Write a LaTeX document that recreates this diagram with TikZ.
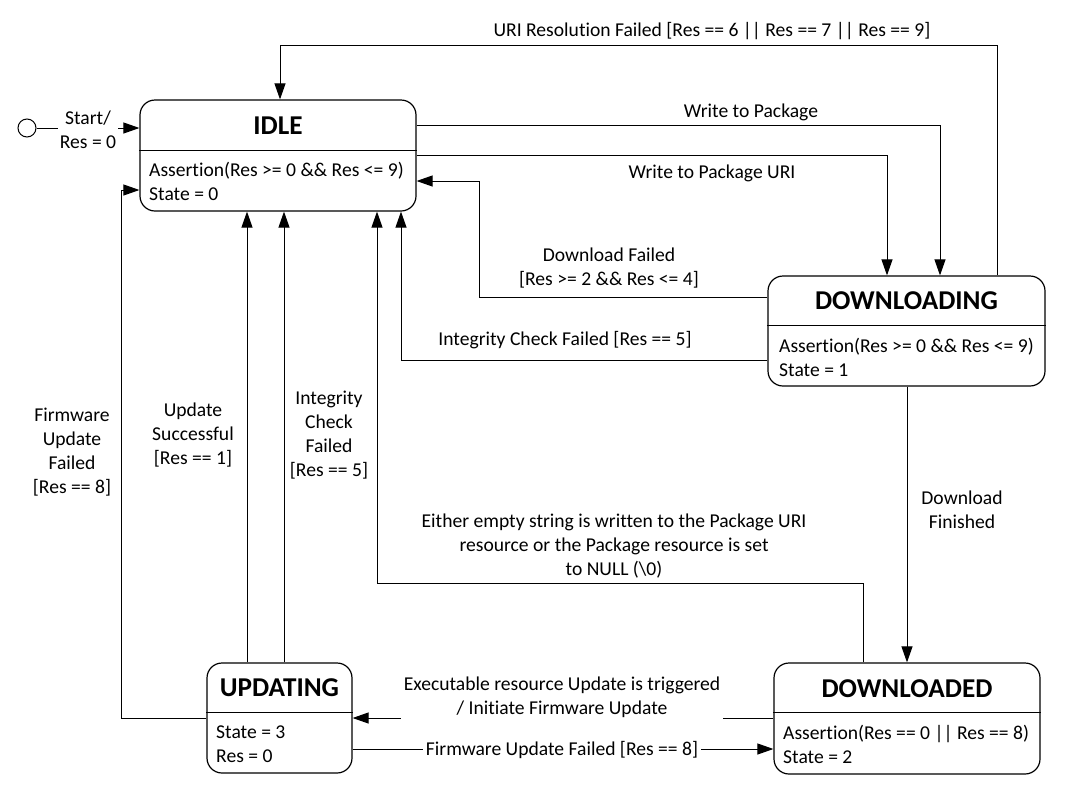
\documentclass[tikz,border=0pt]{standalone}
\usepackage{fontspec}
\setmainfont{Carlito}[Ligatures=NoCommon]
\usetikzlibrary{arrows.meta}
\begin{document}
\begin{tikzpicture}[x=1pt,y=-1pt,
  state/.style={draw, line width=1.2pt, rounded corners=15pt, inner sep=0pt},
  ttl/.style={font=\fontsize{27.2}{30}\selectfont\bfseries, inner sep=0pt},
  body/.style={font=\fontsize{19.6}{24}\selectfont, align=left, inner sep=0pt, anchor=west},
  lbl/.style={font=\fontsize{19.6}{24}\selectfont, align=center, inner sep=1pt},
  wlbl/.style={lbl, fill=white, inner xsep=3pt, inner ysep=3pt},
  arr/.style={draw, line width=1pt, -{Triangle[length=16pt,width=11pt]}},
  divl/.style={draw, line width=1pt}]
\useasboundingbox (0,0) rectangle (1074,788);

% states
\node[state, minimum width=276pt, minimum height=111pt] (idle) at (278,155.5) {};
\node[state, minimum width=277pt, minimum height=110pt] (dling) at (906.5,331) {};
\node[state, minimum width=145pt, minimum height=110pt] (upd) at (279.5,718) {};
\node[state, minimum width=266pt, minimum height=111pt] (dled) at (907,718.5) {};
\node[draw, circle, line width=1pt, minimum size=18pt, inner sep=0pt] (init) at (27,128) {};

\draw[divl] (idle.west |- 0,150) -- (idle.east |- 0,150);
\draw[divl] (dling.west |- 0,325) -- (dling.east |- 0,325);
\draw[divl] (upd.west |- 0,712) -- (upd.east |- 0,712);
\draw[divl] (dled.west |- 0,712) -- (dled.east |- 0,712);

\node[ttl] (tidle) at (278,126) {IDLE};
\node[ttl] (tdling) at (906.5,301) {DOWNLOADING};
\node[ttl] (tupd) at (279.5,688) {UPDATING};
\node[ttl] (tdled) at (907,689) {DOWNLOADED};

\node[body] (bidle) at (149,181) {Assertion(Res >= 0 \&\& Res <= 9)\\State = 0};
\node[body] (bdling) at (779,357) {Assertion(Res >= 0 \&\& Res <= 9)\\State = 1};
\node[body] (bupd) at (216,744.5) {State = 3\\Res = 0};
\node[body] (bdled) at (783,744.5) {Assertion(Res == 0 || Res == 8)\\State = 2};

% connectors
\draw[arr] (init) -- (idle.west |- init);
\node[wlbl, inner xsep=2pt] (lstart) at (88,130) {Start/\\Res = 0};

\draw[arr] (dling.north -| 997,0) |- (280,45) -- (idle.north -| 280,0);
\node[lbl] (luri) at (712,31) {URI Resolution Failed [Res == 6 || Res == 7 || Res == 9]};

\draw[arr] (idle.east |- 0,125) -| (dling.north -| 940,0);
\node[lbl] (lwp) at (751,112) {Write to Package};

\draw[arr] (idle.east |- 0,155) -| (dling.north -| 887,0);
\node[lbl] (lwpu) at (712,173) {Write to Package URI};

\draw[arr] (dling.west |- 0,297) -| (479,181) -- (idle.east |- 0,181);
\node[lbl] (ldf) at (609,268) {Download Failed\\{}[Res >= 2 \&\& Res <= 4]};

\draw[arr] (dling.west |- 0,360) -| (idle.south -| 401,0);
\node[lbl] (licf) at (565,340) {Integrity Check Failed [Res == 5]};

\draw[arr] (dling.south -| 907,0) -- (dled.north -| 907,0);
\node[lbl] (ldfin) at (962,510) {Download\\Finished};

\draw[arr] (dled.north -| 863,0) |- (377,583) -- (idle.south -| 377,0);
\node[lbl] (lempty) at (614,546) {Either empty string is written to the Package URI\\resource or the Package resource is set\\to NULL (\textbackslash 0)};

\draw[arr] (dled.west |- 0,718) -- (upd.east |- 0,718);
\node[wlbl] (lexec) at (562,697) {Executable resource Update is triggered\\/ Initiate Firmware Update};

\draw[arr] (upd.east |- 0,749) -- (dled.west |- 0,749);
\node[wlbl, inner ysep=1pt] (lfuf) at (562,750) {Firmware Update Failed [Res == 8]};

\draw[arr] (upd.north -| 247,0) -- (idle.south -| 247,0);
\node[lbl] (lus) at (193,435) {Update\\Successful\\{}[Res == 1]};

\draw[arr] (upd.north -| 284,0) -- (idle.south -| 284,0);
\node[lbl] (licf2) at (329,435) {Integrity\\Check\\Failed\\{}[Res == 5]};

\draw[arr] (upd.west |- 0,718) -| (121,190) -- (idle.west |- 0,190);
\node[lbl] (lfuf2) at (72,452) {Firmware\\Update\\Failed\\{}[Res == 8]};
\end{tikzpicture}
\end{document}
